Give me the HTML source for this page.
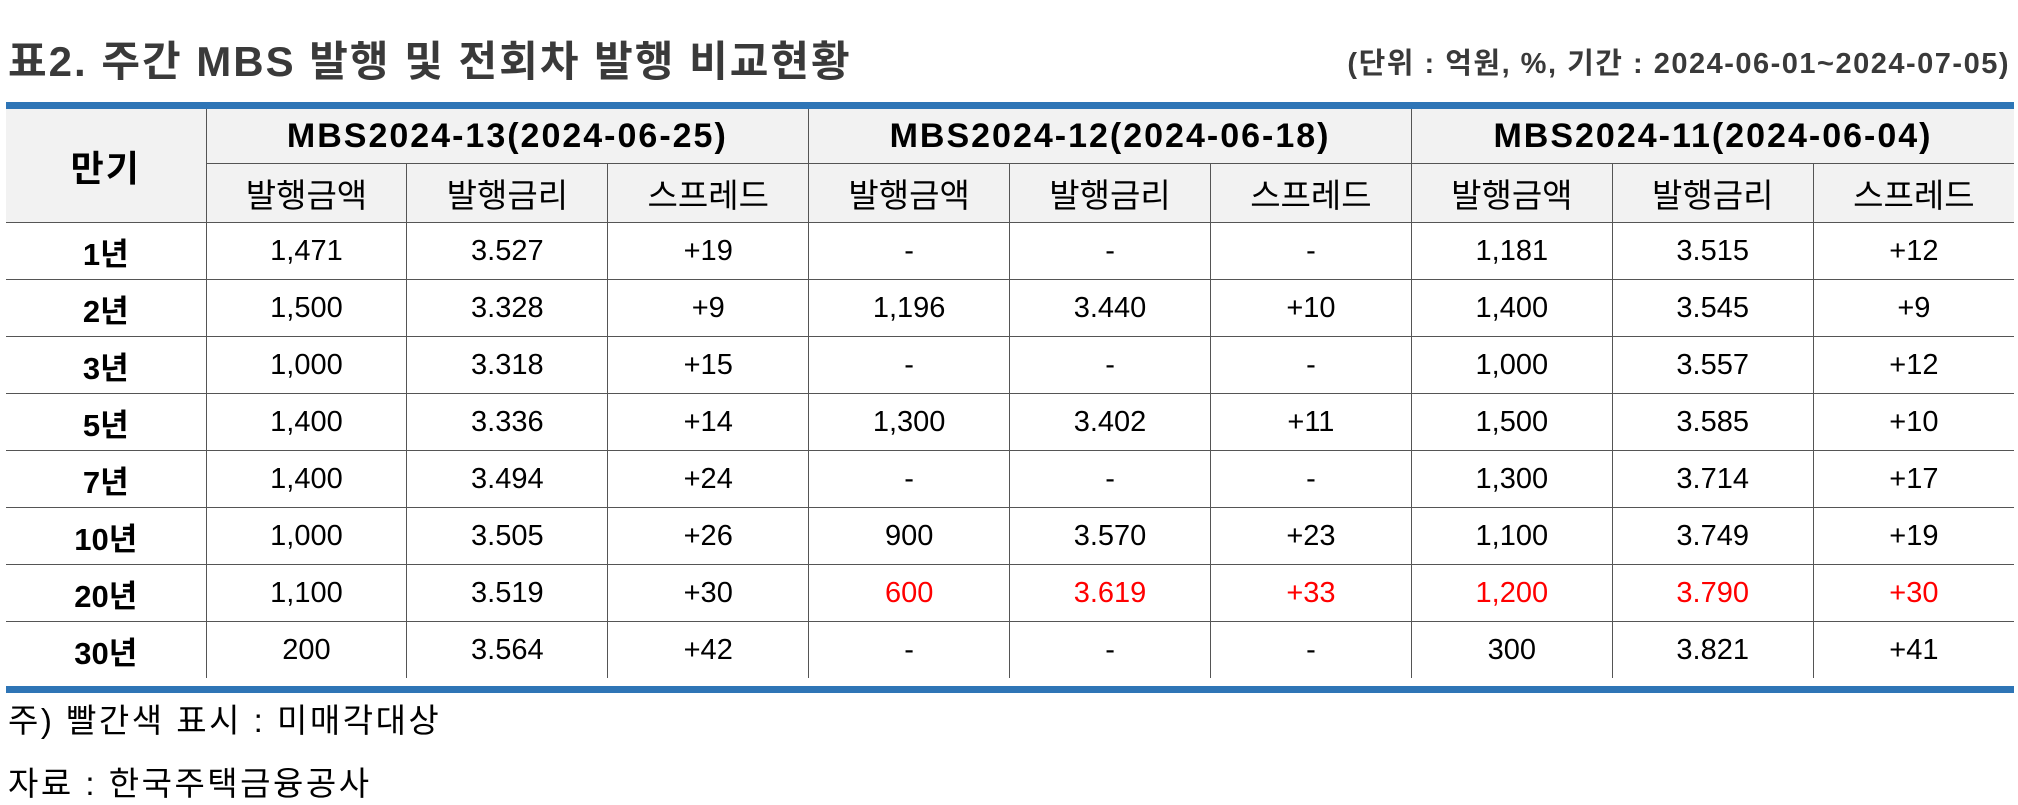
<!DOCTYPE html>
<html><head><meta charset="utf-8"><style>
body{margin:0;width:2018px;height:796px;background:#fff;position:relative;overflow:hidden;font-family:"Liberation Sans","Noto Sans CJK KR",sans-serif;color:#000}
.title{position:absolute;left:8px;top:28px;font-size:42px;font-weight:bold;color:#3a3a3a;letter-spacing:2px}
.unit{position:absolute;right:8px;top:40px;font-size:29px;font-weight:bold;color:#3a3a3a;letter-spacing:1.5px}
.bar{position:absolute;left:6px;width:2008px;height:7px;background:#2e75b6}
table{position:absolute;left:6px;top:109px;width:2008px;border-collapse:collapse;table-layout:fixed}
td{border:1.5px solid #555;text-align:center;font-size:29px;padding:0;white-space:nowrap}
tr td:first-child{border-left:none}
tr td:last-child{border-right:none}
.h1 td{height:54px;background:#f2f2f2;font-weight:bold;font-size:34px;letter-spacing:2px;border-top:none}
.h2 td{height:58px;background:#f2f2f2;font-size:33px}
.d td{height:56px}
.d td:first-child{font-weight:bold;font-size:31px}
.red{color:#ff0000}
.note{position:absolute;left:8px;font-size:33px;letter-spacing:2.5px}
</style></head><body>
<div class="title">표2. 주간 MBS 발행 및 전회차 발행 비교현황</div>
<div class="unit">(단위 : 억원, %, 기간 : 2024-06-01~2024-07-05)</div>
<div class="bar" style="top:102px"></div>
<table>
<colgroup><col style="width:200px"><col span="9" style="width:200.9px"></colgroup>
<tr class="h1"><td rowspan="2" style="font-size:36px;background:#f2f2f2">만기</td>
<td colspan="3">MBS2024-13(2024-06-25)</td>
<td colspan="3">MBS2024-12(2024-06-18)</td>
<td colspan="3">MBS2024-11(2024-06-04)</td></tr>
<tr class="h2"><td>발행금액</td><td>발행금리</td><td>스프레드</td><td>발행금액</td><td>발행금리</td><td>스프레드</td><td>발행금액</td><td>발행금리</td><td>스프레드</td></tr>
<tr class="d"><td>1년</td><td>1,471</td><td>3.527</td><td>+19</td><td>-</td><td>-</td><td>-</td><td>1,181</td><td>3.515</td><td>+12</td></tr>
<tr class="d"><td>2년</td><td>1,500</td><td>3.328</td><td>+9</td><td>1,196</td><td>3.440</td><td>+10</td><td>1,400</td><td>3.545</td><td>+9</td></tr>
<tr class="d"><td>3년</td><td>1,000</td><td>3.318</td><td>+15</td><td>-</td><td>-</td><td>-</td><td>1,000</td><td>3.557</td><td>+12</td></tr>
<tr class="d"><td>5년</td><td>1,400</td><td>3.336</td><td>+14</td><td>1,300</td><td>3.402</td><td>+11</td><td>1,500</td><td>3.585</td><td>+10</td></tr>
<tr class="d"><td>7년</td><td>1,400</td><td>3.494</td><td>+24</td><td>-</td><td>-</td><td>-</td><td>1,300</td><td>3.714</td><td>+17</td></tr>
<tr class="d"><td>10년</td><td>1,000</td><td>3.505</td><td>+26</td><td>900</td><td>3.570</td><td>+23</td><td>1,100</td><td>3.749</td><td>+19</td></tr>
<tr class="d"><td>20년</td><td>1,100</td><td>3.519</td><td>+30</td><td class="red">600</td><td class="red">3.619</td><td class="red">+33</td><td class="red">1,200</td><td class="red">3.790</td><td class="red">+30</td></tr>
<tr class="d"><td style="border-bottom:none">30년</td><td style="border-bottom:none">200</td><td style="border-bottom:none">3.564</td><td style="border-bottom:none">+42</td><td style="border-bottom:none">-</td><td style="border-bottom:none">-</td><td style="border-bottom:none">-</td><td style="border-bottom:none">300</td><td style="border-bottom:none">3.821</td><td style="border-bottom:none">+41</td></tr>
</table>
<div class="bar" style="top:686px"></div>
<div class="note" style="top:694px">주) 빨간색 표시 : 미매각대상</div>
<div class="note" style="top:757px">자료 : 한국주택금융공사</div>
</body></html>
